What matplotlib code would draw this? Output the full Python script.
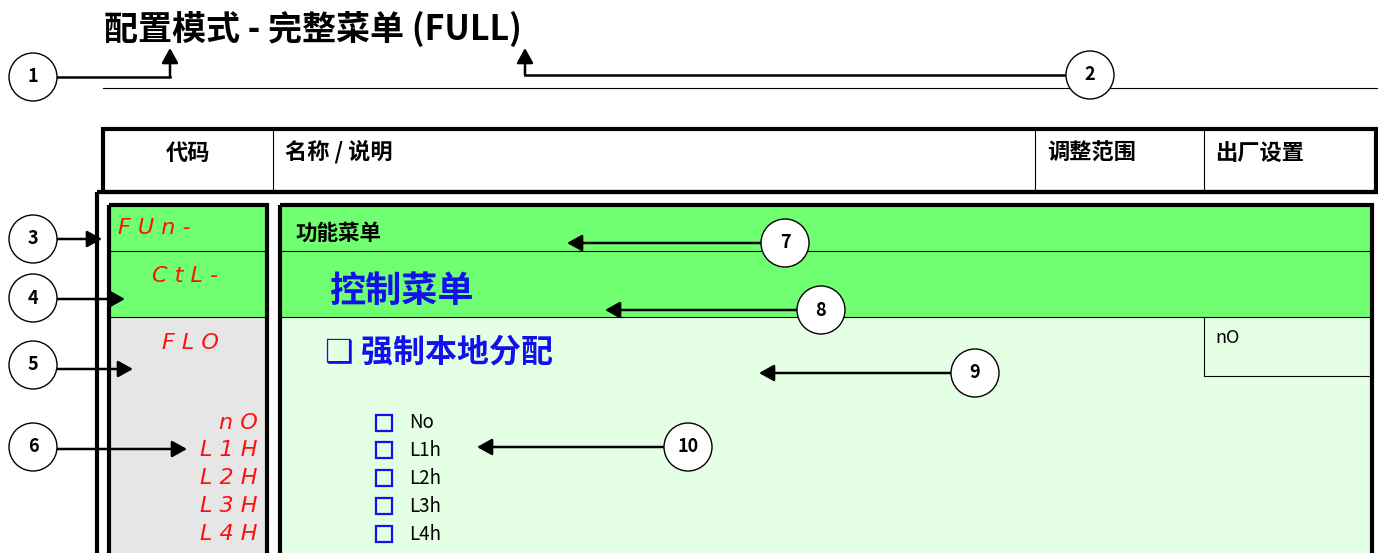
import matplotlib.pyplot as plt
from matplotlib.patches import Circle, Rectangle

plt.rcParams['font.family'] = ['Noto Sans CJK SC', 'DejaVu Sans']

# texts of the page
title = '配置模式 - 完整菜单 (FULL)'
header_labels = ['代码', '名称 / 说明', '调整范围', '出厂设置']
menu_codes = ['F U n -', 'C t L -', 'F L O']
option_codes = ['n O', 'L 1 H', 'L 2 H', 'L 3 H', 'L 4 H']
option_labels = ['No', 'L1h', 'L2h', 'L3h', 'L4h']
func_menu = '功能菜单'
ctl_menu = '控制菜单'
param_name = '❑ 强制本地分配'
factory_value = 'nO'
callout_ids = ['1', '2', '3', '4', '5', '6', '7', '8', '9', '10']

# layout (pixel coordinates, y downwards)
header_x = [188, 285, 1047, 1215]
header_ha = ['center', 'left', 'left', 'left']
menu_code_xy = [(118, 228), (152, 276), (162, 343)]
option_y = [423, 450, 478, 506, 534]
circle_xy = [(33, 77), (1090, 75), (33, 239), (33, 298), (33, 365), (33, 447),
             (785, 243), (821, 310), (975, 373), (688, 447)]
arrow_tips = [(170, 48), (525, 48), (102, 239), (125, 299), (133, 369), (187, 449),
              (567, 243), (605, 310), (759, 373), (477, 447)]

GREEN = '#70ff70'
LIGHT_GREEN = '#e5ffe5'
GRAY = '#e6e6e6'
RED = '#ff1010'
BLUE = '#1010f0'
THICK = 3.0
THIN = 0.8

fig = plt.figure(figsize=(13.78, 5.53), dpi=100)
ax = fig.add_axes([0, 0, 1, 1])
ax.set_xlim(0, 1378)
ax.set_ylim(553, 0)
ax.axis('off')

# title + rule
ax.text(104, 29, title, fontsize=24.5, fontweight='bold', va='center', ha='left')
ax.plot([103, 1378], [88, 88], color='black', lw=THIN)

# header box
ax.add_patch(Rectangle((103, 129), 1376 - 103, 192 - 129, fill=False, ec='black', lw=THICK))
for x in [273, 1035, 1204]:
    ax.plot([x, x], [129, 192], color='black', lw=THIN)
for lab, x, ha in zip(header_labels, header_x, header_ha):
    ax.text(x, 153, lab, fontsize=16, fontweight='bold', ha=ha, va='center')

# fills
ax.add_patch(Rectangle((109, 205), 267 - 109, 317 - 205, fc=GREEN, ec='none'))
ax.add_patch(Rectangle((280, 205), 1372 - 280, 317 - 205, fc=GREEN, ec='none'))
ax.add_patch(Rectangle((109, 317), 267 - 109, 300, fc=GRAY, ec='none'))
ax.add_patch(Rectangle((280, 317), 1372 - 280, 300, fc=LIGHT_GREEN, ec='none'))

# row lines
for y in [251, 317]:
    ax.plot([109, 267], [y, y], color='black', lw=THIN)
    ax.plot([280, 1372], [y, y], color='black', lw=THIN)
ax.plot([1204, 1204], [317, 376], color='black', lw=THIN)
ax.plot([1204, 1372], [376, 376], color='black', lw=THIN)

# thick borders
ax.add_patch(Rectangle((97, 192), 1400, 400, fill=False, ec='black', lw=THICK))
ax.add_patch(Rectangle((109, 205), 267 - 109, 400, fill=False, ec='black', lw=THICK))
ax.add_patch(Rectangle((280, 205), 1372 - 280, 400, fill=False, ec='black', lw=THICK))

# code column
for code, (x, y) in zip(menu_codes, menu_code_xy):
    ax.text(x, y, code, fontsize=16, color=RED, family='DejaVu Sans',
            style='oblique', ha='left', va='center')
for code, y in zip(option_codes, option_y):
    ax.text(258, y, code, fontsize=16, color=RED, family='DejaVu Sans',
            style='oblique', ha='right', va='center')

# description column
ax.text(295, 233, func_menu, fontsize=15.5, fontweight='bold', va='center')
ax.text(329, 291, ctl_menu, fontsize=26, fontweight='bold', color=BLUE, va='center')
ax.text(325, 353, param_name, fontsize=23, fontweight='bold', color=BLUE, va='center')
for lab, y in zip(option_labels, option_y):
    ax.add_patch(Rectangle((376, y - 8), 16, 16, fill=False, ec=BLUE, lw=1.6))
    ax.text(409, y, lab, fontsize=13.5, va='center')
ax.text(1215, 338, factory_value, fontsize=13, va='center')

# callouts
r = 24
for i, (cid, (cx, cy), (tx, ty)) in enumerate(zip(callout_ids, circle_xy, arrow_tips)):
    ax.add_patch(Circle((cx, cy), r, fc='white', ec='black', lw=1.0, zorder=5))
    ax.text(cx, cy, cid, fontsize=13, fontweight='bold', ha='center', va='center', zorder=6)
    style = dict(arrowstyle='-|>,head_length=0.9,head_width=0.5', color='black',
                 lw=1.8, shrinkA=0, shrinkB=0, mutation_scale=10)
    sx = cx + r if tx > cx else cx - r
    if i < 2:
        # bent arrows up to the title
        ax.plot([sx, tx], [cy, cy], color='black', lw=1.8)
        ax.annotate('', xy=(tx, ty), xytext=(tx, cy), arrowprops=style)
    else:
        ax.annotate('', xy=(tx, ty), xytext=(sx - 6 if tx > cx else sx + 6, ty), arrowprops=style)

fig.savefig('out.png', dpi=100)
